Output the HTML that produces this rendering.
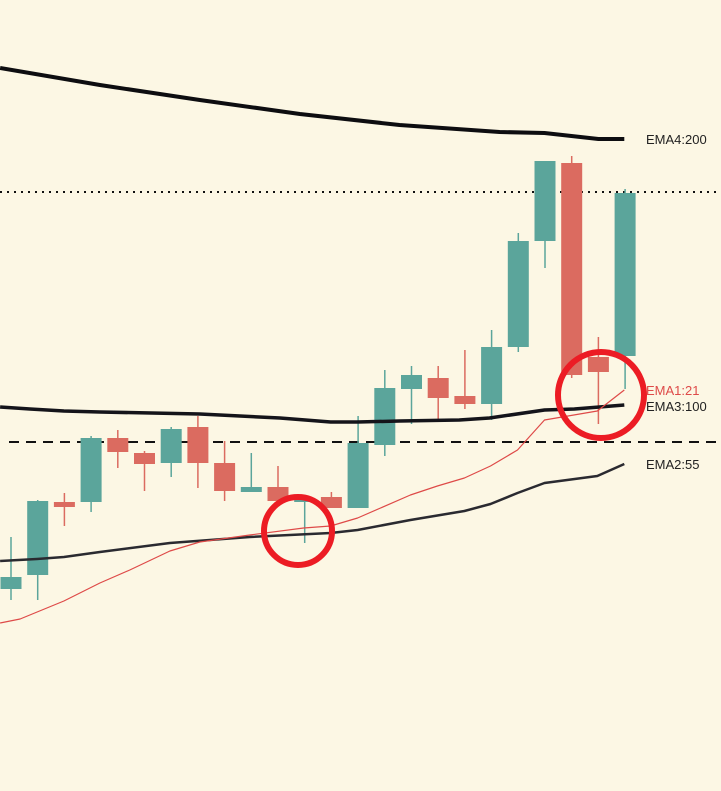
<!DOCTYPE html>
<html><head><meta charset="utf-8"><style>
html,body{margin:0;padding:0;background:#fcf7e4;}
svg{display:block;font-family:"Liberation Sans",sans-serif;}
</style></head><body>
<svg id="chart" width="721" height="791" viewBox="0 0 721 791">
<rect width="721" height="791" fill="#fcf7e4"/>
<g id="levels"></g><g id="candles"></g><g id="lines"></g><g id="marks"></g><g id="labels"></g>
</svg>
<script>
// values are price levels on an inverted pixel-derived scale (higher value = higher price)
const candleIndex=[0,1,2,3,4,5,6,7,8,9,10,11,12,13,14,15,16,17,18,19,20,21,22,23];
const opens =[202,216,289,289,353,338,328,364,328,299,304,289,294,283,346,402,413,395,387,444,550,628,434,435];
const closes=[214,290,284,353,339,327,362,328,300,304,290,291,283,348,403,416,393,387,444,550,630,416,419,598];
const highs =[254,291,298,355,361,340,364,375,350,338,325,291,299,375,421,425,425,441,461,558,630,635,454,602];
const lows  =[191,191,265,279,323,300,314,303,290,299,290,248,283,283,335,367,370,382,371,439,523,413,367,402];
const ema1=[168,172,190,208,221,240,249,256,263,265,273,296,305,313,325,341,371,380,401];
const ema1Idx=[-0.41,0.34,1.98,3.33,4.45,5.95,7.07,8.94,10.96,11.97,12.98,14.96,15.97,16.98,17.96,18.97,19.98,21.96,22.97];
const ema2=[230,232,234,239,248,254,258,261,271,280,287,298,308,315,327];
const ema2Idx=[-0.41,0.97,1.98,3.33,5.95,8.94,11.97,12.98,14.96,16.98,17.96,18.97,19.98,21.96,22.97];
const ema3=[384,382,380,379,377,373,369,369,370,371,373,381,382,386];
const ema3Idx=[-0.41,0.71,1.98,3.33,7.07,10.07,11.97,12.98,14.55,16.79,17.92,19.98,21.1,22.97];
const ema4=[723,706,691,677,666,659,658,652,652];
const ema4Idx=[-0.41,3.33,7.07,10.82,14.55,18.3,19.98,22.0,22.97];
const dottedLevel=599, dashedLevel=349;
const emaLabels=["EMA4:200","EMA1:21","EMA3:100","EMA2:55"];

const X=i=>11+i*26.7;
const Y=v=>791-v;
const NS="http://www.w3.org/2000/svg";
function mk(tag,attrs,parent){const e=document.createElementNS(NS,tag);for(const k in attrs)e.setAttribute(k,attrs[k]);document.getElementById(parent).appendChild(e);return e;}

let e=mk('line',{x1:0,x2:721,y1:Y(dottedLevel),y2:Y(dottedLevel),stroke:'#111','stroke-width':2,'stroke-dasharray':'2 5'},'levels');


e=mk('line',{x1:9,x2:721,y1:Y(dashedLevel),y2:Y(dashedLevel),stroke:'#111','stroke-width':2,'stroke-dasharray':'10 7'},'levels');



candleIndex.forEach(i=>{
  const up=closes[i]>=opens[i], c=up?'#5ba59b':'#db6b60', x=X(i);
  const g=mk('g',{},'candles');
  
  
  const w=document.createElementNS(NS,'line');
  w.setAttribute('x1',x);w.setAttribute('x2',x);w.setAttribute('y1',Y(highs[i]));w.setAttribute('y2',Y(lows[i]));w.setAttribute('stroke',c);w.setAttribute('stroke-width',1.5);
  g.appendChild(w);
  const r=document.createElementNS(NS,'rect');
  const t=Math.max(opens[i],closes[i]),b=Math.min(opens[i],closes[i]);
  r.setAttribute('x',x-10.5);r.setAttribute('width',21);r.setAttribute('y',Y(t));r.setAttribute('height',Math.max(2,t-b));r.setAttribute('fill',c);
  g.appendChild(r);
});

function line(idx,vals,color,w,name){
  const d=idx.map((i,k)=>(k?'L':'M')+X(i).toFixed(1)+' '+Y(vals[k]).toFixed(1)).join(' ');
  const p=mk('path',{d:d,fill:'none',stroke:color,'stroke-width':w,'stroke-linejoin':'round'},'lines');
  
  
}
line(ema4Idx,ema4,'#0d0d10',4,'ema4-200-line');
line(ema3Idx,ema3,'#14141a',3.5,'ema3-100-line');
line(ema2Idx,ema2,'#2a2a30',2.5,'ema2-55-line');
line(ema1Idx,ema1,'#de4a48',1.2,'ema1-21-line');

e=mk('circle',{cx:298,cy:531,r:34,fill:'none',stroke:'#ec1c24','stroke-width':6},'marks');


e=mk('circle',{cx:601,cy:395,r:43,fill:'none',stroke:'#ec1c24','stroke-width':6},'marks');



const labY=[ema4[ema4.length-1],ema1[ema1.length-1],ema3[ema3.length-1],ema2[ema2.length-1]];
const labC=['#222','#de4a48','#222','#222'];
const labNames=['ema4-label','ema1-label','ema3-label','ema2-label'];
emaLabels.forEach((s,k)=>{
  const t=mk('text',{x:646,y:Y(labY[k])+5+(k==2?1:0),'font-size':13,fill:labC[k]},'labels');
  t.textContent=s;
  
  
});
</script>
</body></html>
